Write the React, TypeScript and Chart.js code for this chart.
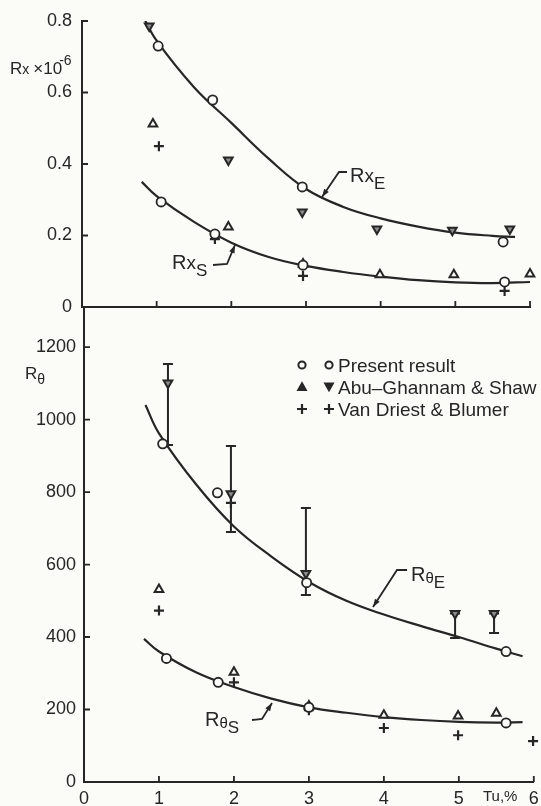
import React, { useEffect, useRef } from 'react';
import { Chart, registerables } from 'chart.js';

Chart.register(...registerables);

const INK = '#262626';
const PAPER = '#fbfbf8';
const FONT = '"Liberation Sans", Arial, Helvetica, sans-serif';

// ---------- axes ----------
const xTickValues = [0, 1, 2, 3, 4, 5, 6];
const xTickLabels = ['0', '1', '2', '3', '4', '5', '6'];
const rxTickValues = [0, 0.2, 0.4, 0.6, 0.8];
const rxTickLabels = ['0', '0.2', '0.4', '0.6', '0.8'];
const rtTickValues = [0, 200, 400, 600, 800, 1000, 1200];
const rtTickLabels = ['0', '200', '400', '600', '800', '1000', '1200'];

// ---------- top panel: Rx x 10^-6 ----------
const rxECurveX = [0.8, 1.0, 1.5, 2.0, 2.5, 3.0, 3.5, 4.0, 4.5, 5.0, 5.5, 5.8];
const rxECurveY = [0.82, 0.745, 0.615, 0.515, 0.415, 0.33, 0.28, 0.248, 0.225, 0.208, 0.199, 0.196];
const rxSCurveX = [0.8, 1.0, 1.5, 2.0, 2.5, 3.0, 3.5, 4.0, 4.5, 5.0, 5.5, 6.0];
const rxSCurveY = [0.35, 0.31, 0.238, 0.18, 0.14, 0.115, 0.098, 0.085, 0.075, 0.069, 0.067, 0.07];

const rxPresentX = [1.02, 1.75, 2.95, 5.64, 1.06, 1.78, 2.96, 5.66];
const rxPresentY = [0.73, 0.579, 0.336, 0.182, 0.294, 0.204, 0.117, 0.07];
const rxAbuStartX = [0.95, 1.96, 2.96, 3.99, 4.98, 6.0];
const rxAbuStartY = [0.512, 0.224, 0.12, 0.09, 0.09, 0.092];
const rxAbuEndX = [0.9, 1.96, 2.95, 3.95, 4.96, 5.73];
const rxAbuEndY = [0.786, 0.411, 0.266, 0.218, 0.215, 0.218];
const rxVanX = [1.03, 1.78, 2.96, 5.66];
const rxVanY = [0.45, 0.19, 0.087, 0.045];

// ---------- bottom panel: R theta ----------
const rtECurveX = [0.82, 1.0, 1.5, 2.0, 2.5, 3.0, 3.5, 4.0, 4.5, 5.0, 5.5, 5.85];
const rtECurveY = [1040, 962, 820, 705, 622, 552, 500, 462, 430, 400, 368, 347];
const rtSCurveX = [0.8, 1.0, 1.5, 2.0, 2.5, 3.0, 3.5, 4.0, 4.5, 5.0, 5.5, 5.85];
const rtSCurveY = [395, 360, 302, 262, 230, 206, 191, 179, 171, 166, 164, 165];

const rtPresentX = [1.05, 1.78, 2.97, 5.63, 1.1, 1.79, 3.0, 5.63];
const rtPresentY = [933, 798, 550, 360, 341, 275, 206, 163];
const rtAbuStartX = [1.0, 2.0, 3.0, 4.0, 4.99, 5.5];
const rtAbuStartY = [531, 303, 210, 184, 182, 190];
const rtAbuEndX = [1.12, 1.96, 2.96, 4.95, 5.47];
const rtAbuEndY = [1101, 795, 575, 465, 465];
const rtAbuEndHigh = [1153, 927, 756, 465, 465];
const rtAbuEndLow = [930, 690, 516, 397, 411];
const rtVanX = [1.0, 2.0, 1.96, 3.0, 4.0, 4.99, 5.99];
const rtVanY = [473, 275, 770, 198, 149, 129, 113];

// ---------- helpers ----------
const zip = (xs: number[], ys: number[]) => xs.map((x, i) => ({ x, y: ys[i] }));

const curve = (label: string, xs: number[], ys: number[]) => ({
  label,
  data: zip(xs, ys),
  showLine: true,
  borderColor: INK,
  borderWidth: 2.2,
  pointRadius: 0,
  tension: 0.4,
  fill: false,
  order: 3,
});

const marks = (label: string, xs: number[], ys: number[], style: string, extra: any = {}) => ({
  label,
  data: zip(xs, ys),
  showLine: false,
  pointStyle: style,
  pointRadius: 4.6,
  borderColor: INK,
  borderWidth: 1.8,
  backgroundColor: PAPER,
  clip: false,
  order: 1,
  ...extra,
});

const fit = (w?: number, h?: number) => (scale: any) => {
  if (w != null) scale.width = w;
  if (h != null) scale.height = h;
  scale.paddingLeft = 0;
  scale.paddingRight = 0;
  scale.paddingTop = 0;
  scale.paddingBottom = 0;
};

const setTicks = (values: number[]) => (scale: any) => {
  scale.ticks = values.map((v) => ({ value: v }));
};

const inwardTicks = {
  id: 'inwardTicks',
  afterDraw(chart: any) {
    const { ctx, chartArea } = chart;
    const xs = chart.scales.x;
    const ys = chart.scales.y;
    ctx.save();
    ctx.strokeStyle = INK;
    ctx.lineWidth = 1.8;
    ctx.beginPath();
    xs.ticks.forEach((t: any) => {
      if (t.value === 0) return;
      const px = xs.getPixelForValue(t.value);
      ctx.moveTo(px, chartArea.bottom);
      ctx.lineTo(px, chartArea.bottom - 6);
    });
    ys.ticks.forEach((t: any) => {
      if (t.value === 0) return;
      const py = ys.getPixelForValue(t.value);
      ctx.moveTo(chartArea.left, py);
      ctx.lineTo(chartArea.left + 6, py);
    });
    ctx.stroke();
    ctx.restore();
  },
};

const errorBars = {
  id: 'errorBars',
  beforeDatasetsDraw(chart: any) {
    const { ctx } = chart;
    const xs = chart.scales.x;
    const ys = chart.scales.y;
    ctx.save();
    ctx.strokeStyle = INK;
    ctx.lineWidth = 2;
    ctx.beginPath();
    rtAbuEndX.forEach((x, i) => {
      const px = xs.getPixelForValue(x);
      const hi = ys.getPixelForValue(rtAbuEndHigh[i]);
      const lo = ys.getPixelForValue(rtAbuEndLow[i]);
      ctx.moveTo(px, hi);
      ctx.lineTo(px, lo);
      ctx.moveTo(px - 5, hi);
      ctx.lineTo(px + 5, hi);
      ctx.moveTo(px - 5, lo);
      ctx.lineTo(px + 5, lo);
    });
    ctx.stroke();
    ctx.restore();
  },
};

const tickFont = { family: FONT, size: 18 };
const noGrid = { display: false, drawTicks: false, tickLength: 0 };

function arrowHead(x1: number, y1: number, x2: number, y2: number) {
  const dx = x2 - x1;
  const dy = y2 - y1;
  const len = Math.hypot(dx, dy);
  const ux = dx / len;
  const uy = dy / len;
  const bx = x2 - ux * 8;
  const by = y2 - uy * 8;
  const nx = -uy * 2.8;
  const ny = ux * 2.8;
  return `${x2},${y2} ${bx + nx},${by + ny} ${bx - nx},${by - ny}`;
}

const leaders: number[][] = [
  [347, 172, 339, 172, 322, 197],
  [213, 265, 227, 264, 235, 245],
  [407, 570, 397, 570, 373, 607],
  [252, 720, 262, 719, 272, 703],
];

function CurveLabel(props: { left: number; top: number; mid: string; sub: string; midSize?: number; midDrop?: number }) {
  const { left, top, mid, sub, midSize = 19, midDrop = 0 } = props;
  return (
    <div style={{ position: 'absolute', left, top, fontSize: 20, lineHeight: 1, whiteSpace: 'nowrap', color: INK }}>
      R
      <span style={{ fontSize: midSize, position: 'relative', top: midDrop }}>{mid}</span>
      <span style={{ fontSize: 17, position: 'relative', top: 7 }}>{sub}</span>
    </div>
  );
}

export default function App() {
  const topRef = useRef<HTMLCanvasElement>(null);
  const botRef = useRef<HTMLCanvasElement>(null);

  useEffect(() => {
    Chart.defaults.font.family = FONT;
    Chart.defaults.color = INK;

    const common = {
      animation: false as const,
      responsive: false,
      maintainAspectRatio: false,
      events: [] as any[],
      plugins: { legend: { display: false }, tooltip: { enabled: false } },
    };

    const top = new Chart(topRef.current as HTMLCanvasElement, {
      type: 'scatter',
      data: {
        datasets: [
          curve('Rx_E', rxECurveX, rxECurveY),
          curve('Rx_S', rxSCurveX, rxSCurveY),
          marks('Present result', rxPresentX, rxPresentY, 'circle'),
          marks('Abu-Ghannam & Shaw (start)', rxAbuStartX, rxAbuStartY, 'triangle', { pointRadius: 5, borderWidth: 2 }),
          marks('Abu-Ghannam & Shaw (end)', rxAbuEndX, rxAbuEndY, 'triangle', { pointRadius: 5, borderWidth: 2, rotation: 180, backgroundColor: '#8c8c8c' }),
          marks('Van Driest & Blumer', rxVanX, rxVanY, 'cross', { pointRadius: 5, borderWidth: 2.2 }),
        ] as any,
      },
      options: {
        ...common,
        layout: { padding: { left: 0, right: 11, top: 21, bottom: 0 } },
        scales: {
          x: {
            type: 'linear',
            min: 0,
            max: 6,
            afterBuildTicks: setTicks(xTickValues),
            afterFit: fit(undefined, 13),
            ticks: { display: false },
            grid: noGrid,
            border: { display: true, color: INK, width: 2 },
          },
          y: {
            type: 'linear',
            min: 0,
            max: 0.8,
            afterBuildTicks: setTicks(rxTickValues),
            afterFit: fit(82, undefined),
            ticks: { font: tickFont, color: INK, padding: 10, callback: (_v: any, i: number) => rxTickLabels[i] },
            grid: noGrid,
            border: { display: true, color: INK, width: 2 },
          },
        },
      } as any,
      plugins: [inwardTicks],
    });

    const bot = new Chart(botRef.current as HTMLCanvasElement, {
      type: 'scatter',
      data: {
        datasets: [
          curve('Rθ_E', rtECurveX, rtECurveY),
          curve('Rθ_S', rtSCurveX, rtSCurveY),
          marks('Present result', rtPresentX, rtPresentY, 'circle'),
          marks('Abu-Ghannam & Shaw (start)', rtAbuStartX, rtAbuStartY, 'triangle', { pointRadius: 5, borderWidth: 2 }),
          marks('Abu-Ghannam & Shaw (end)', rtAbuEndX, rtAbuEndY, 'triangle', { pointRadius: 5, borderWidth: 2, rotation: 180, backgroundColor: '#8c8c8c' }),
          marks('Van Driest & Blumer', rtVanX, rtVanY, 'cross', { pointRadius: 5, borderWidth: 2.2 }),
        ] as any,
      },
      options: {
        ...common,
        layout: { padding: { left: 0, right: 5, top: 6, bottom: 0 } },
        scales: {
          x: {
            type: 'linear',
            min: 0,
            max: 6,
            afterBuildTicks: setTicks(xTickValues),
            afterFit: fit(undefined, 24),
            ticks: { font: tickFont, color: INK, padding: 6, maxRotation: 0, callback: (_v: any, i: number) => xTickLabels[i] },
            grid: noGrid,
            border: { display: true, color: INK, width: 2 },
          },
          y: {
            type: 'linear',
            min: 0,
            max: 1310,
            afterBuildTicks: setTicks(rtTickValues),
            afterFit: fit(84, undefined),
            ticks: { font: tickFont, color: INK, padding: 8, callback: (_v: any, i: number) => rtTickLabels[i] },
            grid: noGrid,
            border: { display: true, color: INK, width: 2 },
          },
        },
      } as any,
      plugins: [inwardTicks, errorBars],
    });

    return () => {
      top.destroy();
      bot.destroy();
    };
  }, []);

  const legendRows = [
    { top: 354.5, text: 'Present result' },
    { top: 376.5, text: 'Abu\u2013Ghannam & Shaw' },
    { top: 398.5, text: 'Van Driest & Blumer' },
  ];

  return (
    <div
      style={{
        position: 'absolute',
        left: 0,
        top: 0,
        width: 541,
        height: 806,
        overflow: 'hidden',
        background: PAPER,
        fontFamily: FONT,
        color: INK,
      }}
    >
      <canvas ref={topRef} width={541} height={320} style={{ position: 'absolute', left: 0, top: 0 }} />
      <canvas ref={botRef} width={541} height={506} style={{ position: 'absolute', left: 0, top: 300 }} />

      <svg width={541} height={806} style={{ position: 'absolute', left: 0, top: 0, pointerEvents: 'none' }}>
        {leaders.map((l, i) => (
          <g key={i}>
            <polyline points={`${l[0]},${l[1]} ${l[2]},${l[3]} ${l[4]},${l[5]}`} fill="none" stroke={INK} strokeWidth={1.8} />
            <polygon points={arrowHead(l[2], l[3], l[4], l[5])} fill={INK} />
          </g>
        ))}
        {/* legend symbols */}
        <circle cx={302} cy={365} r={3.6} fill="none" stroke={INK} strokeWidth={2} />
        <circle cx={329} cy={365} r={3.6} fill="none" stroke={INK} strokeWidth={2} />
        <polygon points="302,382.5 297.5,390.5 306.5,390.5" fill={INK} stroke={INK} strokeWidth={1.2} />
        <polygon points="324.5,383 333.5,383 329,391" fill={INK} stroke={INK} strokeWidth={1.2} />
        <path d="M297,409 H307 M302,404 V414 M324,409 H334 M329,404 V414" stroke={INK} strokeWidth={2.2} />
      </svg>

      {legendRows.map((r) => (
        <div key={r.text} style={{ position: 'absolute', left: 338, top: r.top, fontSize: 19, lineHeight: '21px', whiteSpace: 'nowrap' }}>
          {r.text}
        </div>
      ))}

      {/* axis titles */}
      <div style={{ position: 'absolute', left: 10, top: 60, fontSize: 17, lineHeight: 1, whiteSpace: 'nowrap' }}>
        R<span style={{ fontSize: 14 }}>x</span>
        <span style={{ marginLeft: 4 }}>×10</span>
        <span style={{ fontSize: 14, position: 'relative', top: -9, marginLeft: -3 }}>-6</span>
      </div>
      <div style={{ position: 'absolute', left: 25, top: 365, fontSize: 17, lineHeight: 1, whiteSpace: 'nowrap' }}>
        R<span style={{ fontSize: 14, position: 'relative', top: 5 }}>θ</span>
      </div>
      <div style={{ position: 'absolute', left: 483, top: 788, fontSize: 15, lineHeight: 1, whiteSpace: 'nowrap' }}>
        Tu,%
      </div>

      {/* curve labels */}
      <CurveLabel left={350} top={165} mid="x" sub="E" />
      <CurveLabel left={172} top={252} mid="x" sub="S" />
      <CurveLabel left={411} top={564} mid="θ" sub="E" midSize={15} midDrop={2} />
      <CurveLabel left={205} top={709} mid="θ" sub="S" midSize={15} midDrop={2} />
    </div>
  );
}
